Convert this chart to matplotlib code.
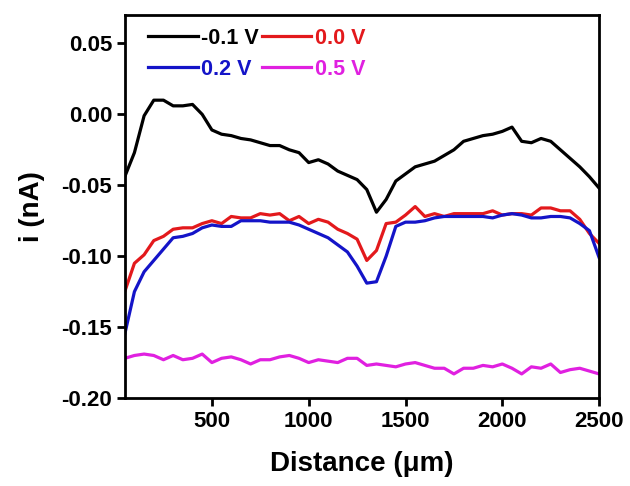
import matplotlib
matplotlib.use("Agg")
import matplotlib.pyplot as plt
from matplotlib.ticker import FormatStrFormatter

plt.rcParams['font.family'] = ['Liberation Sans', 'DejaVu Sans']
plt.rcParams['font.weight'] = 'bold'

distance = list(range(50, 2501, 50))

i_m01 = [-0.044, -0.027, -0.001, 0.010, 0.010, 0.006, 0.006, 0.007, 0.000, -0.011,
         -0.014, -0.015, -0.017, -0.018, -0.020, -0.022, -0.022, -0.025, -0.027, -0.034,
         -0.032, -0.035, -0.040, -0.043, -0.046, -0.053, -0.069, -0.060, -0.047, -0.042,
         -0.037, -0.035, -0.033, -0.029, -0.025, -0.019, -0.017, -0.015, -0.014, -0.012,
         -0.009, -0.019, -0.020, -0.017, -0.019, -0.025, -0.031, -0.037, -0.044, -0.052]

i_00 = [-0.125, -0.105, -0.099, -0.089, -0.086, -0.081, -0.080, -0.080, -0.077, -0.075,
        -0.077, -0.072, -0.073, -0.073, -0.070, -0.071, -0.070, -0.075, -0.072, -0.077,
        -0.074, -0.076, -0.081, -0.084, -0.088, -0.103, -0.096, -0.077, -0.076, -0.071,
        -0.065, -0.072, -0.070, -0.072, -0.070, -0.070, -0.070, -0.070, -0.068, -0.071,
        -0.070, -0.070, -0.071, -0.066, -0.066, -0.068, -0.068, -0.074, -0.084, -0.091]

i_02 = [-0.155, -0.125, -0.111, -0.103, -0.095, -0.087, -0.086, -0.084, -0.080, -0.078,
        -0.079, -0.079, -0.075, -0.075, -0.075, -0.076, -0.076, -0.076, -0.078, -0.081,
        -0.084, -0.087, -0.092, -0.097, -0.107, -0.119, -0.118, -0.100, -0.079, -0.076,
        -0.076, -0.075, -0.073, -0.072, -0.072, -0.072, -0.072, -0.072, -0.073, -0.071,
        -0.070, -0.071, -0.073, -0.073, -0.072, -0.072, -0.073, -0.077, -0.082, -0.101]

i_05 = [-0.172, -0.170, -0.169, -0.170, -0.173, -0.170, -0.173, -0.172, -0.169, -0.175,
        -0.172, -0.171, -0.173, -0.176, -0.173, -0.173, -0.171, -0.170, -0.172, -0.175,
        -0.173, -0.174, -0.175, -0.172, -0.172, -0.177, -0.176, -0.177, -0.178, -0.176,
        -0.175, -0.177, -0.179, -0.179, -0.183, -0.179, -0.179, -0.177, -0.178, -0.176,
        -0.179, -0.183, -0.178, -0.179, -0.176, -0.182, -0.180, -0.179, -0.181, -0.183]

labels = ["-0.1 V", "0.0 V", "0.2 V", "0.5 V"]
colors = ["#000000", "#e3191c", "#1414c8", "#e020e0"]
series = [i_m01, i_00, i_02, i_05]

xticks = [500, 1000, 1500, 2000, 2500]
yticks = [-0.20, -0.15, -0.10, -0.05, 0.00, 0.05]

fig = plt.figure(figsize=(6.3, 4.86), dpi=100)
ax = fig.add_axes([0.198, 0.181, 0.753, 0.788])

handles = []
for ys, lab, c in zip(series, labels, colors):
    h, = ax.plot(distance, ys, color=c, lw=2.3, label=lab)
    handles.append(h)

ax.set_xlim(50, 2500)
ax.set_ylim(-0.20, 0.07)
ax.set_xticks(xticks)
ax.set_yticks(yticks)
ax.yaxis.set_major_formatter(FormatStrFormatter('%.2f'))

for s in ax.spines.values():
    s.set_linewidth(2.0)
ax.tick_params(axis='both', direction='out', length=6, width=2, labelsize=16, pad=3)
for lbl in ax.get_xticklabels() + ax.get_yticklabels():
    lbl.set_fontweight('bold')

ax.set_xlabel("Distance (μm)", fontsize=20, fontweight='bold', labelpad=14)
ax.set_ylabel("i (nA)", fontsize=20, fontweight='bold', labelpad=12)

# column-major fill: col1 = -0.1 V, 0.2 V ; col2 = 0.0 V, 0.5 V
order = [0, 2, 1, 3]
leg = ax.legend([handles[k] for k in order], [labels[k] for k in order],
                loc='upper left', ncol=2, frameon=False, fontsize=15.5,
                handlelength=2.3, handletextpad=0.15, columnspacing=0.15,
                labelspacing=0.45, borderaxespad=0.2, bbox_to_anchor=(0.022, 1.0))
for t, k in zip(leg.get_texts(), order):
    t.set_color(colors[k])
    t.set_fontweight('bold')

fig.savefig("out.png", dpi=100)
